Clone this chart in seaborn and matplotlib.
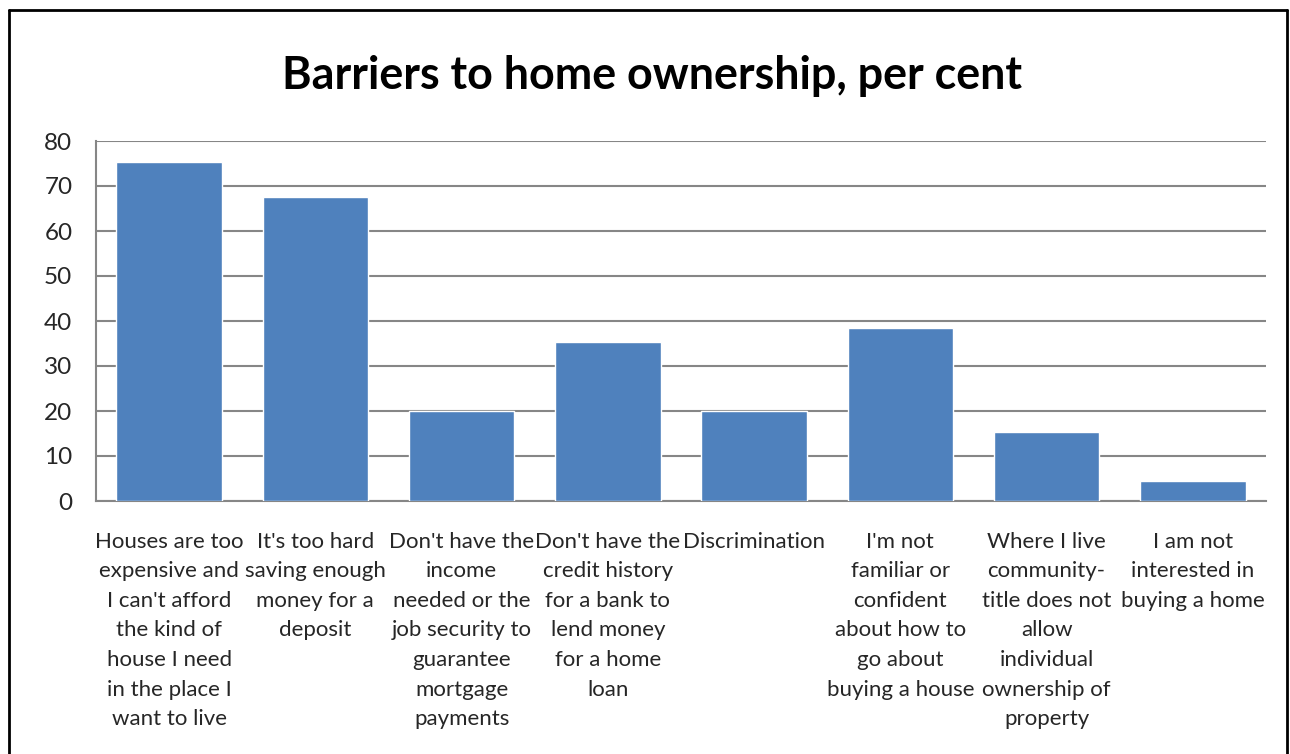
import matplotlib
matplotlib.use("Agg")
import matplotlib.pyplot as plt
import seaborn as sns
import pandas as pd
from matplotlib.lines import Line2D

categories = [
    "Houses are too\nexpensive and\nI can't afford\nthe kind of\nhouse I need\nin the place I\nwant to live",
    "It's too hard\nsaving enough\nmoney for a\ndeposit",
    "Don't have the\nincome\nneeded or the\njob security to\nguarantee\nmortgage\npayments",
    "Don't have the\ncredit history\nfor a bank to\nlend money\nfor a home\nloan",
    "Discrimination",
    "I'm not\nfamiliar or\nconfident\nabout how to\ngo about\nbuying a house",
    "Where I live\ncommunity-\ntitle does not\nallow\nindividual\nownership of\nproperty",
    "I am not\ninterested in\nbuying a home",
]
values = [75.3, 67.6, 20.0, 35.3, 20.0, 38.4, 15.3, 4.5]
y_ticks = [0, 10, 20, 30, 40, 50, 60, 70, 80]
title = "Barriers to home ownership, per cent"

sns.set_theme(style="white")
plt.rcParams["font.family"] = ["Lato", "DejaVu Sans"]

df = pd.DataFrame({"category": categories, "value": values})

fig = plt.figure(figsize=(12.9, 7.54), dpi=100)
ax = fig.add_axes([96 / 1290, 1 - 501 / 754, 1170 / 1290, 360 / 754])

sns.barplot(data=df, x="category", y="value", color="#4F81BD", saturation=1,
            width=0.72, ax=ax, zorder=3)

ax.set_ylim(0, 80)
ax.set_yticks(y_ticks)
ax.set_yticklabels([str(t) for t in y_ticks], fontsize=17.5)
ax.yaxis.grid(True, color="#868686", linewidth=1.5, zorder=0)
ax.set_axisbelow(True)
ax.tick_params(axis="both", length=0)
ax.tick_params(axis="y", pad=17)
ax.tick_params(axis="x", pad=22)
ax.set_xticks(range(len(categories)))
ax.set_xticklabels(categories, fontsize=16, linespacing=1.6, ha="center", va="top")
ax.set_xlabel("")
ax.set_ylabel("")

for side in ("top", "right"):
    ax.spines[side].set_visible(False)
for side in ("left", "bottom"):
    ax.spines[side].set_color("#868686")
    ax.spines[side].set_linewidth(1.5)

fig.text(652 / 1290, 1 - 76 / 754, title, ha="center", va="center",
         fontsize=32.3, fontweight="bold", color="black")

# Chart-area frame (left, top, right edges)
x0, x1 = 8.5 / 1290, 1287 / 1290
y_top = 1 - 10 / 754
for xs, ys in (([x0, x0], [0, y_top]), ([x0, x1], [y_top, y_top]), ([x1, x1], [y_top, 0])):
    fig.add_artist(Line2D(xs, ys, transform=fig.transFigure, color="black", linewidth=2))

fig.savefig("out.png", dpi=100, facecolor="white")
